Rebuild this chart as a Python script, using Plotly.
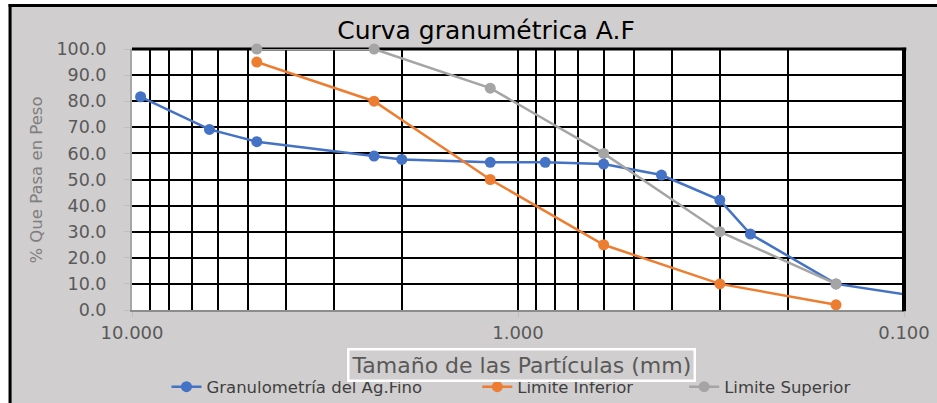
import plotly.graph_objects as go

# Data
sizes_fino = [9.5, 6.3, 4.75, 2.36, 2.0, 1.18, 0.85, 0.6, 0.425, 0.3, 0.25, 0.15, 0.075]
pasa_fino = [81.7, 69.2, 64.5, 59.0, 57.7, 56.6, 56.6, 55.9, 51.7, 42.1, 29.1, 10.0, 3.2]

sizes_lim = [4.75, 2.36, 1.18, 0.6, 0.3, 0.15]
lim_inf = [95.0, 80.0, 50.0, 25.0, 10.0, 2.0]
lim_sup = [100.0, 100.0, 85.0, 60.0, 30.0, 10.0]

x_ticks = [10, 1, 0.1]
x_ticktext = ["10.000", "1.000", "0.100"]
x_minor = [9, 8, 7, 6, 5, 4, 3, 2, 0.9, 0.8, 0.7, 0.6, 0.5, 0.4, 0.3, 0.2]

W, H = 937, 403
L, R, T, B = 131.5, 33, 49, 93
pw, ph = W - L - R, H - T - B

def px(xp):
    return (xp - L) / pw

def py(yp):
    return (H - B - yp) / ph

FONT = "DejaVu Sans"
BG = "#d0cece"

fig = go.Figure()
fig.add_trace(go.Scatter(x=sizes_fino, y=pasa_fino, mode="lines+markers",
                         name="Granulometría del Ag.Fino", legend="legend",
                         line=dict(color="#4472C4", width=2.5),
                         marker=dict(color="#4472C4", size=11)))
fig.add_trace(go.Scatter(x=sizes_lim, y=lim_inf, mode="lines+markers",
                         name="Limite Inferior", legend="legend2", cliponaxis=False,
                         line=dict(color="#ED7D31", width=2.5),
                         marker=dict(color="#ED7D31", size=11)))
fig.add_trace(go.Scatter(x=sizes_lim, y=lim_sup, mode="lines+markers",
                         name="Limite Superior", legend="legend3", cliponaxis=False,
                         line=dict(color="#A5A5A5", width=2.5),
                         marker=dict(color="#A5A5A5", size=11)))

shapes = [
    # white margins outside the outer border
    dict(type="rect", xref="paper", yref="paper", x0=px(-5), x1=px(8), y0=py(410), y1=py(-5),
         fillcolor="white", line=dict(width=0), layer="above"),
    dict(type="rect", xref="paper", yref="paper", x0=px(-5), x1=px(945), y0=py(4), y1=py(-5),
         fillcolor="white", line=dict(width=0), layer="above"),
    # outer black border (top, left)
    dict(type="line", xref="paper", yref="paper", x0=px(8), x1=px(945), y0=py(5.5), y1=py(5.5),
         line=dict(color="black", width=3), layer="above"),
    dict(type="line", xref="paper", yref="paper", x0=px(9.5), x1=px(9.5), y0=py(4), y1=py(410),
         line=dict(color="black", width=3), layer="above"),
    # plot area top and right thick borders
    dict(type="line", xref="paper", yref="paper", x0=0, x1=1.003, y0=1, y1=1,
         line=dict(color="black", width=3), layer="below"),
    dict(type="line", xref="paper", yref="paper", x0=1, x1=1, y0=-0.005, y1=1.005,
         line=dict(color="black", width=4), layer="above"),
]

leg_common = dict(orientation="h", xanchor="left", y=py(387), yanchor="middle",
                  bgcolor="rgba(0,0,0,0)", font=dict(size=16.5, color="#404040"))

fig.update_layout(
    width=W, height=H,
    margin=dict(l=L, r=R, t=T, b=B, autoexpand=False),
    paper_bgcolor=BG, plot_bgcolor="white",
    font=dict(family=FONT, color="#595959"),
    title=dict(text="Curva granumétrica A.F", x=486 / W, xanchor="center",
               y=1 - 30 / H, yanchor="middle",
               font=dict(family=FONT, size=25, color="black")),
    xaxis=dict(type="log", range=[1, -1], tickvals=x_ticks, ticktext=x_ticktext,
               ticks="outside", ticklen=5, tickcolor="#bfbfbf", tickwidth=1,
               showgrid=True, gridcolor="black", gridwidth=2,
               showline=True, linecolor="#8c8c8c", linewidth=2,
               tickfont=dict(size=18, color="#595959"),
               minor=dict(tickvals=x_minor, showgrid=True, gridcolor="black",
                          gridwidth=2, ticks=""),
               zeroline=False, automargin=False),
    yaxis=dict(range=[0, 100], dtick=10, tickformat=".1f",
               ticks="outside", ticklen=6, tickcolor="#bfbfbf", tickwidth=1,
               ticklabelstandoff=14,
               showgrid=True, gridcolor="black", gridwidth=2,
               showline=True, linecolor="#a6a6a6", linewidth=2,
               tickfont=dict(size=17.5, color="#595959"),
               zeroline=False, automargin=False),
    legend=dict(x=px(166), **leg_common),
    legend2=dict(x=px(477), **leg_common),
    legend3=dict(x=px(684), **leg_common),
    showlegend=True,
    shapes=shapes,
    annotations=[
        dict(text="Tamaño de las Partículas (mm)", xref="paper", yref="paper",
             x=px(521.5), y=py(364.5), xanchor="center", yanchor="middle",
             showarrow=False, font=dict(size=22, color="#595959"),
             bgcolor=BG, bordercolor="white", borderwidth=2.5, borderpad=2),
        dict(text="% Que Pasa en Peso", xref="paper", yref="paper",
             x=px(35), y=py(180), xanchor="center", yanchor="middle", textangle=-90,
             showarrow=False, font=dict(size=16.5, color="#7f7f7f")),
    ],
)

fig.write_html("out.html", config={"displayModeBar": False},
               post_script="document.body.style.margin='0';document.body.style.padding='0';document.body.style.overflow='hidden';")
